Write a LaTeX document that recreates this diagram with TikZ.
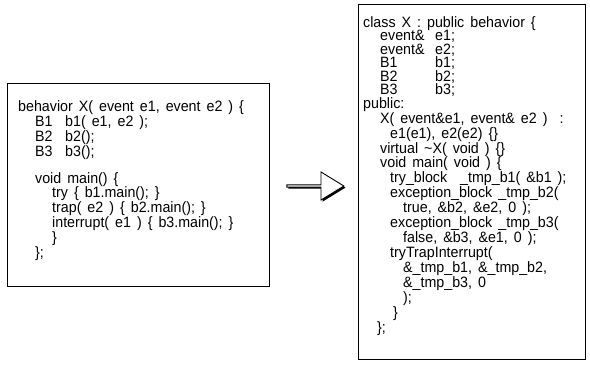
\documentclass[tikz,border=0pt]{standalone}
\usepackage{fontspec}
\setmainfont{Liberation Sans}[FakeStretch=0.95]
\usetikzlibrary{positioning,shapes.arrows,shadows}

\newcommand{\ind}[1]{\hspace*{#1pt}}
\newcommand{\col}[2]{\makebox[#1pt][l]{#2}}
\newcommand{\codefont}{\fontsize{15}{13.5}\selectfont\spaceskip 6pt\relax}

\begin{document}
\begin{tikzpicture}[
  x=1pt, y=-1pt,
  codebox/.style={
    draw, line width=1pt, rectangle,
    anchor=north west, inner sep=0pt,
  },
  listing/.style={
    anchor=north west, inner sep=0pt, align=left,
    font=\codefont,
  },
  convert/.style={
    draw, line width=0.9pt, fill=white, single arrow,
    minimum height=57pt, minimum width=28pt, inner sep=0pt,
    single arrow head extend=5.5pt, single arrow tip angle=63,
    drop shadow={shadow xshift=1.6pt, shadow yshift=-1.6pt, fill=black, opacity=1},
  },
]
\useasboundingbox (0,0) rectangle (590,367);

% behavior description
\node[codebox, minimum width=262pt, minimum height=203pt] (srcbox) at (7,83) {};
\node[listing] (src) at (18,100) {%
behavior X( event e1, event e2 ) \{\\
\ind{17}\col{30}{B1}b1( e1, e2 );\\
\ind{17}\col{30}{B2}b2();\\
\ind{17}\col{30}{B3}b3();\\
\mbox{}\\
\ind{17}void main() \{\\
\ind{34}try \{ b1.main(); \}\\
\ind{34}trap( e2 ) \{ b2.main(); \}\\
\ind{34}interrupt( e1 ) \{ b3.main(); \}\\
\ind{34}\}\\
\ind{17}\};};

% generated C++ class
\node[codebox, minimum width=227pt, minimum height=355pt] (dstbox) at (358,4) {};
\node[listing] (dst) at (363,16) {%
class X : public behavior \{\\
\ind{17}\col{55}{event\&}e1;\\
\ind{17}\col{55}{event\&}e2;\\
\ind{17}\col{55}{B1}b1;\\
\ind{17}\col{55}{B2}b2;\\
\ind{17}\col{55}{B3}b3;\\
public:\\
\ind{17}X( event\&e1, event\& e2 ) \ :\\
\ind{27}e1(e1), e2(e2) \{\}\\
\ind{17}virtual \textasciitilde X( void ) \{\}\\
\ind{17}void main( void ) \{\\
\ind{27}\col{70}{try\_block}\_tmp\_b1( \&b1 );\\
\ind{27}exception\_block \_tmp\_b2(\\
\ind{40}true, \&b2, \&e2, 0 );\\
\ind{27}exception\_block \_tmp\_b3(\\
\ind{40}false, \&b3, \&e1, 0 );\\
\ind{27}tryTrapInterrupt(\\
\ind{40}\&\_tmp\_b1, \&\_tmp\_b2,\\
\ind{40}\&\_tmp\_b3, 0\\
\ind{40});\\
\ind{30}\}\\
\ind{14}\};};

\node[convert] (conv) at (314.5,186) {};

\end{tikzpicture}
\end{document}
